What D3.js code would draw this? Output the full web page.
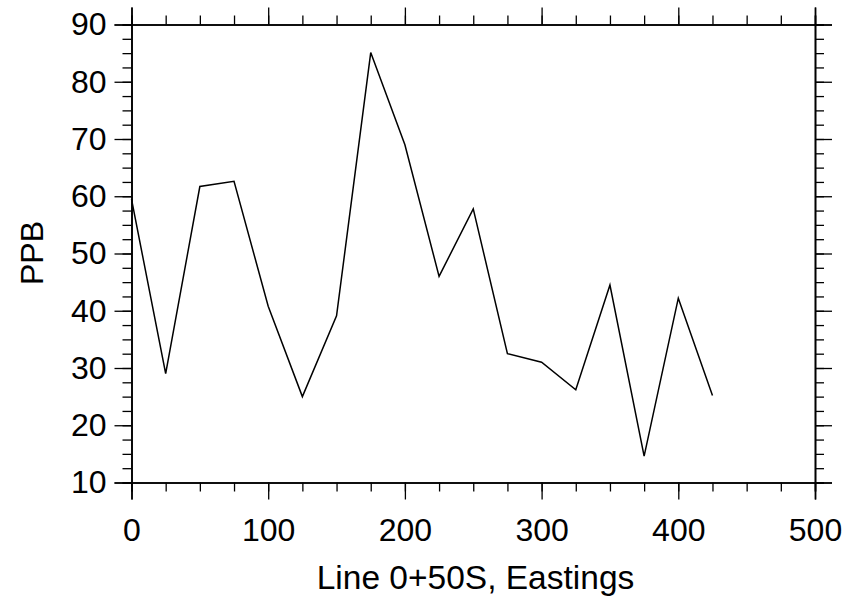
<!DOCTYPE html>
<meta charset="utf-8">
<title>PPB line</title>
<script src="https://d3js.org/d3.v7.min.js"></script>
<style>
  body { margin: 0; background: #fff; }
  text { font-family: "Liberation Sans", Arial, sans-serif; fill: #000; }
</style>
<body>
<div id="chart"></div>
<script>
// data
var eastings = [0, 25, 50, 75, 100, 125, 150, 175, 200, 225, 250, 275, 300, 325, 350, 375, 400, 425];
var ppb = [59.5, 29, 61.7, 62.6, 40.8, 25, 39.1, 85.1, 69, 46, 57.8, 32.5, 31, 26.2, 44.5, 14.6, 42.2, 25.2];
var xTicks = [0, 100, 200, 300, 400, 500];
var yTicks = [10, 20, 30, 40, 50, 60, 70, 80, 90];

var W = 850, H = 602;
var margin = {top: 24.5, right: 35, bottom: 119.5, left: 131.5};
var width = W - margin.left - margin.right,
    height = H - margin.top - margin.bottom;

var svg = d3.select("#chart").append("svg")
    .attr("width", W)
    .attr("height", H)
  .append("g")
    .attr("transform", "translate(" + margin.left + "," + margin.top + ")");

var x = d3.scaleLinear().domain([0, 500]).range([0, width]);
var y = d3.scaleLinear().domain([10, 90]).range([height, 0]);

var xMinor = d3.range(0, 501, 25);
var yMinor = d3.range(10, 90.1, 2.5);

function styleAxis(g) {
  g.select(".domain").attr("stroke", "#000").attr("stroke-width", 1.6);
  g.selectAll(".tick line").attr("stroke", "#000").attr("stroke-width", 1.3);
}

// minor ticks first, then majors with labels
svg.append("g").attr("transform", "translate(0," + height + ")")
  .call(d3.axisBottom(x).tickValues(xMinor).tickSize(9).tickFormat(""))
  .call(styleAxis);
svg.append("g").attr("transform", "translate(0," + height + ")")
  .call(d3.axisBottom(x).tickValues(xTicks).tickSize(17).tickPadding(19).tickFormat(d3.format("d")))
  .call(styleAxis)
  .selectAll("text").attr("font-size", "32px").attr("font-family", "Liberation Sans, Arial, sans-serif");

svg.append("g")
  .call(d3.axisTop(x).tickValues(xMinor).tickSize(9).tickFormat(""))
  .call(styleAxis);
svg.append("g")
  .call(d3.axisTop(x).tickValues(xTicks).tickSize(17).tickFormat(""))
  .call(styleAxis);

svg.append("g")
  .call(d3.axisLeft(y).tickValues(yMinor).tickSize(9).tickFormat(""))
  .call(styleAxis);
svg.append("g")
  .call(d3.axisLeft(y).tickValues(yTicks).tickSize(17).tickPadding(8).tickFormat(d3.format("d")))
  .call(styleAxis)
  .selectAll("text").attr("font-size", "32px").attr("font-family", "Liberation Sans, Arial, sans-serif");

svg.append("g").attr("transform", "translate(" + width + ",0)")
  .call(d3.axisRight(y).tickValues(yMinor).tickSize(9).tickFormat(""))
  .call(styleAxis);
svg.append("g").attr("transform", "translate(" + width + ",0)")
  .call(d3.axisRight(y).tickValues(yTicks).tickSize(17).tickFormat(""))
  .call(styleAxis);

// data line
var line = d3.line()
  .x(function(d, i) { return x(eastings[i]); })
  .y(function(d) { return y(d); });

svg.append("path")
  .datum(ppb)
  .attr("fill", "none")
  .attr("stroke", "#000")
  .attr("stroke-width", 1.5)
  .attr("stroke-linejoin", "miter")
  .attr("d", line);

// axis titles
svg.append("text")
  .attr("x", 475.5 - margin.left)
  .attr("y", height + 106)
  .attr("text-anchor", "middle")
  .attr("font-size", "33.5px")
  .text("Line 0+50S, Eastings");

svg.append("text")
  .attr("transform", "translate(" + (42.5 - margin.left) + "," + (y(50) - 0.5) + ") rotate(-90)")
  .attr("text-anchor", "middle")
  .attr("font-size", "32px")
  .text("PPB");
</script>
</body>
